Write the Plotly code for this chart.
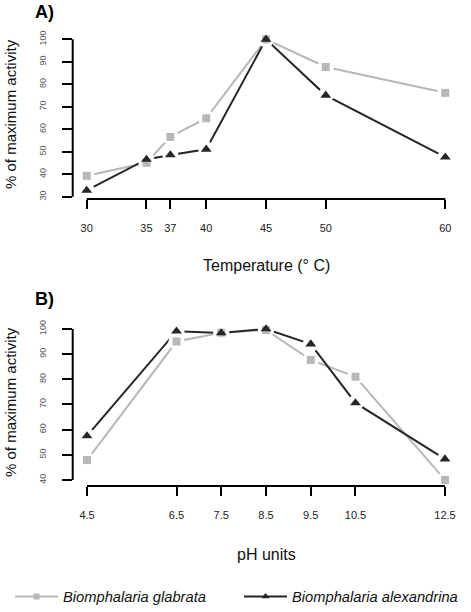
import plotly.graph_objects as go
from plotly.subplots import make_subplots

# ---------------- data ----------------
temp = [30, 35, 37, 40, 45, 50, 60]
temp_glabrata = [39.3, 45.1, 56.6, 64.9, 100, 87.7, 76.2]
temp_alexandrina = [32.8, 46.6, 48.6, 51.1, 100, 75.1, 47.6]
temp_yticks = [30, 40, 50, 60, 70, 80, 90, 100]

ph = [4.5, 6.5, 7.5, 8.5, 9.5, 10.5, 12.5]
ph_glabrata = [47.9, 95.0, 98.5, 99.6, 87.7, 81.0, 40.0]
ph_alexandrina = [57.5, 99.1, 98.4, 100, 94.0, 70.6, 48.3]
ph_yticks = [40, 50, 60, 70, 80, 90, 100]

tick_labels_temp = [str(v) for v in temp]
tick_labels_ph = [str(v) for v in ph]

name_glabrata = "Biomphalaria glabrata"
name_alexandrina = "Biomphalaria alexandrina"

# ---------------- style ----------------
W, H = 471, 612
GREY = "#b8b8b8"
DARK = "#262626"
FONT = "Liberation Sans, Arial, Helvetica, sans-serif"


def px_x(p):
    return p / W


def px_y(p):
    return 1 - p / H


fig = make_subplots(rows=2, cols=1)

panels = [
    (1, temp, temp_glabrata, temp_alexandrina),
    (2, ph, ph_glabrata, ph_alexandrina),
]

for row, xs, g, a in panels:
    # lines
    fig.add_trace(go.Scatter(x=xs, y=g, mode="lines", line=dict(color=GREY, width=2),
                             showlegend=False, hoverinfo="skip"), row=row, col=1)
    fig.add_trace(go.Scatter(x=xs, y=a, mode="lines", line=dict(color=DARK, width=2),
                             showlegend=False, hoverinfo="skip"), row=row, col=1)
    # white halos (gaps around points, as in type="b")
    for ys in (g, a):
        fig.add_trace(go.Scatter(x=xs, y=ys, mode="markers",
                                 marker=dict(symbol="circle", size=16, color="#ffffff", opacity=1,
                                             line=dict(width=0)),
                                 showlegend=False, hoverinfo="skip", cliponaxis=False), row=row, col=1)
    # markers
    fig.add_trace(go.Scatter(x=xs, y=g, mode="markers",
                             marker=dict(symbol="square", size=8, color=GREY, line=dict(width=0)),
                             showlegend=False, cliponaxis=False), row=row, col=1)
    fig.add_trace(go.Scatter(x=xs, y=a, mode="markers",
                             marker=dict(symbol="triangle-up", size=9.5, color=DARK, line=dict(width=0)),
                             showlegend=False, cliponaxis=False), row=row, col=1)

# legend entries
fig.add_trace(go.Scatter(x=[None], y=[None], mode="lines+markers", name="<i>" + name_glabrata + "</i>",
                         line=dict(color=GREY, width=2),
                         marker=dict(symbol="square", size=6, color=GREY)), row=1, col=1)
fig.add_trace(go.Scatter(x=[None], y=[None], mode="lines+markers", name="<i>" + name_alexandrina + "</i>",
                         line=dict(color=DARK, width=2),
                         marker=dict(symbol="triangle-up", size=7, color=DARK)), row=1, col=1)

x_dom = [px_x(72.7), px_x(459.3)]

common_x = dict(showline=False, showgrid=False, zeroline=False, ticks="outside", ticklen=9,
                tickwidth=2, tickcolor="black", tickfont=dict(family=FONT, size=11, color="#222"),
                ticklabelstandoff=10, domain=x_dom, automargin=False)
common_y = dict(showline=False, showgrid=False, zeroline=False, ticks="outside", ticklen=10,
                tickwidth=2, tickcolor="black", tickangle=-90, automargin=False,
                tickfont=dict(family=FONT, size=9, color="#555"), ticklabelstandoff=12)

fig.update_xaxes(row=1, col=1, range=[28.83, 61.17], tickvals=temp, ticktext=tick_labels_temp, **common_x)
fig.update_xaxes(row=2, col=1, range=[4.18, 12.82], tickvals=ph, ticktext=tick_labels_ph, **common_x)
fig.update_yaxes(row=1, col=1, range=[29.0, 101.03], tickvals=temp_yticks,
                 ticktext=[str(v) for v in temp_yticks], domain=[px_y(199), px_y(37)], **common_y)
fig.update_yaxes(row=2, col=1, range=[37.6, 102.36], tickvals=ph_yticks,
                 ticktext=[str(v) for v in ph_yticks], domain=[px_y(486), px_y(323)], **common_y)

# axis lines spanning first to last tick (R style)
shapes = []
for xref, yref, xt, yt in [("x", "y", temp, temp_yticks), ("x2", "y2", ph, ph_yticks)]:
    shapes.append(dict(type="line", xref=xref + " domain", yref=yref, x0=0, x1=0,
                       y0=min(yt), y1=max(yt), line=dict(color="black", width=2), layer="above"))
    shapes.append(dict(type="line", xref=xref, yref=yref + " domain", x0=min(xt), x1=max(xt),
                       y0=0, y1=0, line=dict(color="black", width=2), layer="above"))

annotations = [
    dict(text="<b>A)</b>", x=px_x(44), y=px_y(12)),
    dict(text="<b>B)</b>", x=px_x(44), y=px_y(299)),
]
annotations = [dict(a, xref="paper", yref="paper", showarrow=False, xanchor="center", yanchor="middle",
                    font=dict(family=FONT, size=18, color="black")) for a in annotations]
for text, x, y, ang, sz in [
    ("% of maximum activity", 10, 114, -90, 15),
    ("% of maximum activity", 10, 402, -90, 15),
    ("Temperature (° C)", 266, 265, 0, 16),
    ("pH units", 266, 554, 0, 16),
]:
    annotations.append(dict(text=text, x=px_x(x), y=px_y(y), xref="paper", yref="paper",
                            showarrow=False, xanchor="center", yanchor="middle", textangle=ang,
                            font=dict(family=FONT, size=sz, color="#111")))

fig.update_layout(
    width=W, height=H,
    margin=dict(l=0, r=0, t=0, b=0, autoexpand=False),
    plot_bgcolor="white", paper_bgcolor="white",
    shapes=shapes, annotations=annotations,
    legend=dict(orientation="h", x=px_x(10), y=px_y(597), xanchor="left", yanchor="middle",
                itemwidth=43, entrywidth=171,
                font=dict(family=FONT, size=14.7, color="#111"), bgcolor="rgba(0,0,0,0)"),
)

fig.write_html("out.html", config={"displayModeBar": False},
               post_script="document.body.style.margin='0';document.body.style.overflow='hidden';")
